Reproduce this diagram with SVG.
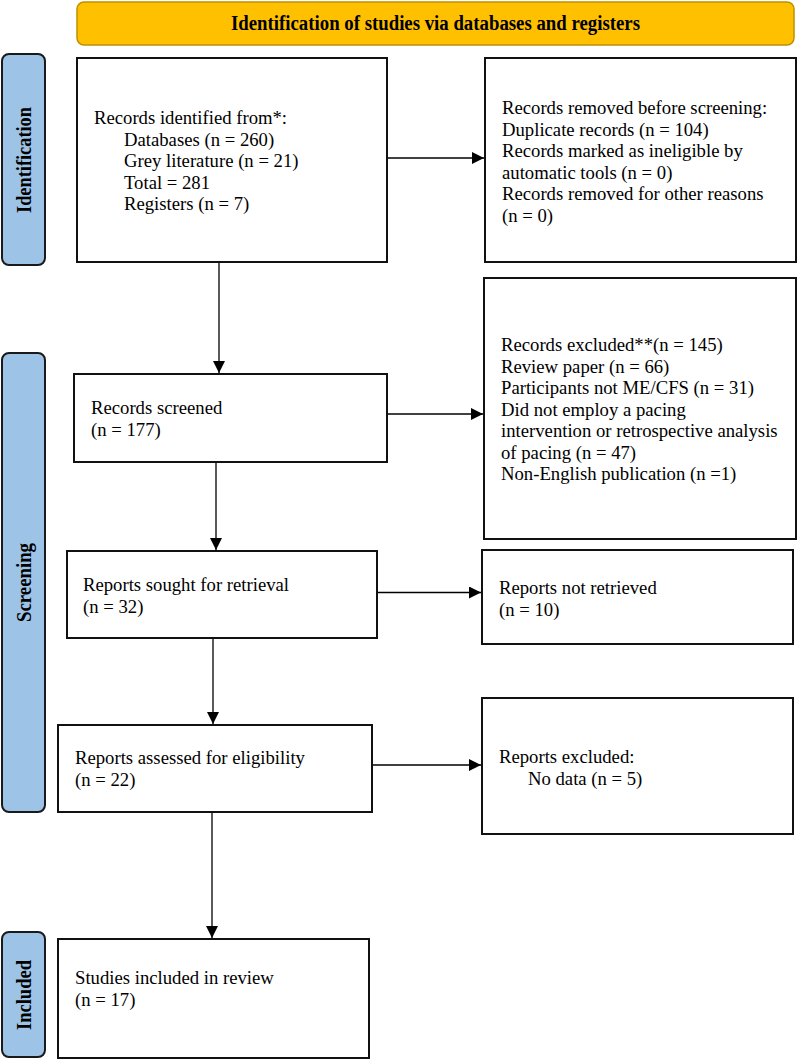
<svg xmlns="http://www.w3.org/2000/svg" width="797" height="1060" viewBox="0 0 797 1060">
<style>
.box{fill:#fff;stroke:#111;stroke-width:2}
.lbl{fill:#9DC3E6;stroke:#1a1a1a;stroke-width:2}
.t{font-family:"Liberation Serif","Times New Roman",serif;font-size:18.7px;fill:#000}
.lt{font-family:"Liberation Serif","Times New Roman",serif;font-size:21px;font-weight:bold;fill:#000}
.ttl{font-family:"Liberation Serif","Times New Roman",serif;font-size:20px;font-weight:bold;fill:#000}
.c{stroke:#000;stroke-width:1.3;fill:none}
</style>
<defs>
<marker id="ah" markerUnits="userSpaceOnUse" markerWidth="12" markerHeight="12" refX="12" refY="6" orient="auto">
<path d="M0,0 L12,6 L0,12 z" fill="#000"/>
</marker>
</defs>

<g id="title">
<rect x="77" y="2" width="717" height="43" rx="7" fill="#FFC000" stroke="#BF9000" stroke-width="1.5"/>
<text class="ttl" x="435.5" y="29.5" text-anchor="middle" textLength="409" lengthAdjust="spacingAndGlyphs">Identification of studies via databases and registers</text>
</g>

<g id="label-identification">
<rect class="lbl" x="2" y="54" width="43" height="211" rx="7"/>
<text class="lt" transform="translate(24,160) rotate(-90)" x="0" y="7" text-anchor="middle" textLength="106" lengthAdjust="spacingAndGlyphs">Identification</text>
</g>
<g id="label-screening">
<rect class="lbl" x="2" y="353" width="43" height="459" rx="7"/>
<text class="lt" transform="translate(24,582.5) rotate(-90)" x="0" y="7" text-anchor="middle" textLength="79" lengthAdjust="spacingAndGlyphs">Screening</text>
</g>
<g id="label-included">
<rect class="lbl" x="2" y="932" width="43" height="125" rx="7"/>
<text class="lt" transform="translate(24,995) rotate(-90)" x="0" y="7" text-anchor="middle" textLength="70" lengthAdjust="spacingAndGlyphs">Included</text>
</g>

<g id="records-identified">
<rect class="box" x="77" y="58" width="310" height="204"/>
<text class="t" x="94" y="124">Records identified from*:</text>
<text class="t" x="124" y="145.5">Databases (n = 260)</text>
<text class="t" x="124" y="167">Grey literature (n = 21)</text>
<text class="t" x="124" y="188.5">Total = 281</text>
<text class="t" x="124" y="210">Registers (n = 7)</text>
</g>

<g id="records-removed">
<rect class="box" x="485" y="58" width="311" height="204"/>
<text class="t" x="502" y="114">Records removed before screening:</text>
<text class="t" x="502" y="135.5">Duplicate records (n = 104)</text>
<text class="t" x="502" y="157">Records marked as ineligible by</text>
<text class="t" x="502" y="178.5">automatic tools (n = 0)</text>
<text class="t" x="502" y="200">Records removed for other reasons</text>
<text class="t" x="502" y="221.5">(n = 0)</text>
</g>

<g id="records-screened">
<rect class="box" x="74" y="374" width="313" height="88"/>
<text class="t" x="91" y="414">Records screened</text>
<text class="t" x="91" y="436">(n = 177)</text>
</g>

<g id="records-excluded">
<rect class="box" x="484" y="278" width="312" height="261"/>
<text class="t" x="501" y="351">Records excluded**(n = 145)</text>
<text class="t" x="501" y="372.5">Review paper (n = 66)</text>
<text class="t" x="501" y="394">Participants not ME/CFS (n = 31)</text>
<text class="t" x="501" y="415.5">Did not employ a pacing</text>
<text class="t" x="501" y="437">intervention or retrospective analysis</text>
<text class="t" x="501" y="458.5">of pacing (n = 47)</text>
<text class="t" x="501" y="480">Non-English publication (n =1)</text>
</g>

<g id="reports-sought">
<rect class="box" x="67" y="551" width="310" height="87"/>
<text class="t" x="83" y="591">Reports sought for retrieval</text>
<text class="t" x="83" y="613">(n = 32)</text>
</g>

<g id="reports-not-retrieved">
<rect class="box" x="482" y="550" width="311" height="94"/>
<text class="t" x="499" y="594">Reports not retrieved</text>
<text class="t" x="499" y="616">(n = 10)</text>
</g>

<g id="reports-assessed">
<rect class="box" x="58" y="725" width="314" height="87"/>
<text class="t" x="75" y="764">Reports assessed for eligibility</text>
<text class="t" x="75" y="786">(n = 22)</text>
</g>

<g id="reports-excluded">
<rect class="box" x="482" y="698" width="311" height="136"/>
<text class="t" x="499" y="763">Reports excluded:</text>
<text class="t" x="528" y="784.5">No data (n = 5)</text>
</g>

<g id="studies-included">
<rect class="box" x="58" y="939" width="311" height="119"/>
<text class="t" x="75" y="984">Studies included in review</text>
<text class="t" x="75" y="1006">(n = 17)</text>
</g>

<g id="connectors">
<line class="c" x1="219" y1="263" x2="219" y2="373" marker-end="url(#ah)"/>
<line class="c" x1="388" y1="158" x2="484" y2="158" marker-end="url(#ah)"/>
<line class="c" x1="216" y1="463" x2="216" y2="550" marker-end="url(#ah)"/>
<line class="c" x1="388" y1="414" x2="483" y2="414" marker-end="url(#ah)"/>
<line class="c" x1="213" y1="639" x2="213" y2="724" marker-end="url(#ah)"/>
<line class="c" x1="378" y1="592.5" x2="481" y2="592.5" marker-end="url(#ah)"/>
<line class="c" x1="212" y1="813" x2="212" y2="938" marker-end="url(#ah)"/>
<line class="c" x1="373" y1="765" x2="481" y2="765" marker-end="url(#ah)"/>
</g>
</svg>
